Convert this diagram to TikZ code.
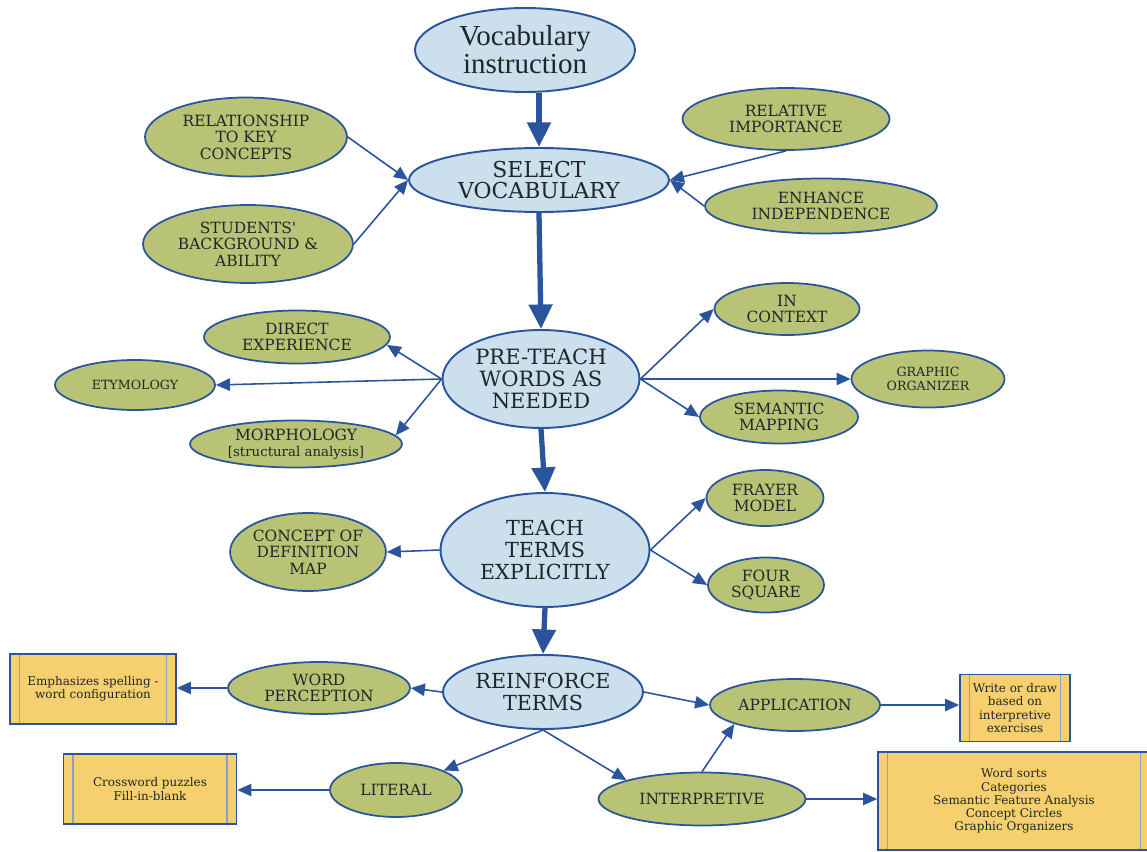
\documentclass[tikz,border=0pt]{standalone}
\usepackage{fontspec}
\setmainfont{DejaVu Serif}
\newfontfamily\titlefont{Liberation Serif}
\definecolor{skyblue}{RGB}{203,223,236}
\definecolor{olivegreen}{RGB}{184,195,118}
\definecolor{boxgold}{RGB}{246,207,110}
\definecolor{edgeblue}{RGB}{42,84,156}
\definecolor{inkgray}{RGB}{30,40,40}
\usetikzlibrary{shapes.geometric, arrows.meta}
\tikzstyle{mainell}=[ellipse, draw=edgeblue, line width=1.1pt, fill=skyblue, text=inkgray, inner sep=0pt, align=center]
\tikzstyle{subell}=[ellipse, draw=edgeblue, line width=1pt, fill=olivegreen, text=inkgray, inner sep=0pt, align=center, font=\fontsize{8.8}{9.4}\selectfont]
\tikzstyle{notebox}=[rectangle, draw=edgeblue, line width=1pt, fill=boxgold, text=inkgray, inner sep=0pt, align=center, font=\fontsize{6.8}{7.5}\selectfont,
    path picture={\draw[edgeblue!55, line width=0.8pt] ([xshift=5.5pt]path picture bounding box.north west) -- ([xshift=5.5pt]path picture bounding box.south west)
        ([xshift=-5.5pt]path picture bounding box.north east) -- ([xshift=-5.5pt]path picture bounding box.south east);}]
\tikzstyle{bigarrow}=[edgeblue, line width=3pt, -{Triangle[length=14pt,width=13pt]}]
\tikzstyle{smallarrow}=[edgeblue, line width=0.9pt, -{Triangle[length=8pt,width=7pt]}]

\begin{document}
\begin{tikzpicture}[x=0.02cm, y=-0.02cm]
        \useasboundingbox (0,0) rectangle (1147,852);
        \node[mainell, minimum width=4.4cm, minimum height=1.68cm, font=\titlefont\fontsize{16.5}{16}\selectfont] (vocab) at (525,50) {Vocabulary\\instruction};
        \node[mainell, minimum width=5.2cm, minimum height=1.28cm, font=\fontsize{12.5}{12}\selectfont] (select) at (539,180) {SELECT\\VOCABULARY};
        \node[mainell, minimum width=3.94cm, minimum height=1.96cm, font=\fontsize{12}{12.5}\selectfont] (preteach) at (541,379) {PRE-TEACH\\WORDS AS\\NEEDED};
        \node[mainell, minimum width=4.18cm, minimum height=2.28cm, font=\fontsize{11.8}{12.5}\selectfont] (teach) at (545,550) {TEACH\\TERMS\\EXPLICITLY};
        \node[mainell, minimum width=4.0cm, minimum height=1.48cm, font=\fontsize{11.8}{12.5}\selectfont] (reinforce) at (543,692) {REINFORCE\\TERMS};

        \node[subell, minimum width=4.04cm, minimum height=1.58cm] (relation) at (246,137) {RELATIONSHIP\\TO KEY\\CONCEPTS};
        \node[subell, minimum width=4.2cm, minimum height=1.56cm] (students) at (248,244) {STUDENTS\textquotesingle\\BACKGROUND \&\\ABILITY};
        \node[subell, minimum width=4.14cm, minimum height=1.24cm] (importance) at (786,119) {RELATIVE\\IMPORTANCE};
        \node[subell, minimum width=4.64cm, minimum height=1.1cm] (independence) at (821,206) {ENHANCE\\INDEPENDENCE};

        \node[subell, minimum width=3.72cm, minimum height=1.06cm] (direct) at (297,337) {DIRECT\\EXPERIENCE};
        \node[subell, minimum width=3.2cm, minimum height=1.0cm, font=\fontsize{7.2}{8}\selectfont] (etymology) at (135,385) {ETYMOLOGY};
        \node[subell, minimum width=4.24cm, minimum height=0.94cm] (morphology) at (296,444) {MORPHOLOGY\\{\fontsize{7.6}{8.4}\selectfont[structural analysis]}};
        \node[subell, minimum width=2.9cm, minimum height=1.04cm] (context) at (787,309) {IN\\CONTEXT};
        \node[subell, minimum width=3.06cm, minimum height=1.14cm, font=\fontsize{7.2}{8}\selectfont] (organizer) at (928,379) {GRAPHIC\\ORGANIZER};
        \node[subell, minimum width=3.16cm, minimum height=1.06cm] (mapping) at (779,417) {SEMANTIC\\MAPPING};

        \node[subell, minimum width=3.0cm, minimum height=1.56cm] (definition) at (308,552) {CONCEPT OF\\DEFINITION\\MAP};
        \node[subell, minimum width=2.34cm, minimum height=1.12cm] (frayer) at (765,498) {FRAYER\\MODEL};
        \node[subell, minimum width=2.32cm, minimum height=1.1cm] (square) at (766,585) {FOUR\\SQUARE};

        \node[subell, minimum width=3.64cm, minimum height=1.04cm] (perception) at (319,688) {WORD\\PERCEPTION};
        \node[subell, minimum width=3.4cm, minimum height=1.04cm] (application) at (795,705) {APPLICATION};
        \node[subell, minimum width=2.64cm, minimum height=1.08cm] (literal) at (396,790) {LITERAL};
        \node[subell, minimum width=4.14cm, minimum height=1.06cm] (interpretive) at (702,799) {INTERPRETIVE};

        \node[notebox, minimum width=3.32cm, minimum height=1.4cm] (spelling) at (93,689) {Emphasizes spelling -\\word configuration};
        \node[notebox, minimum width=2.2cm, minimum height=1.34cm] (writedraw) at (1015,708) {Write or draw\\based on\\interpretive\\exercises};
        \node[notebox, minimum width=3.46cm, minimum height=1.4cm] (crossword) at (150,789) {Crossword puzzles\\Fill-in-blank};
        \node[notebox, minimum width=5.44cm, minimum height=1.96cm] (sorts) at (1014,801) {Word sorts\\Categories\\Semantic Feature Analysis\\Concept Circles\\Graphic Organizers};

        \draw[bigarrow] (select.north |- vocab.south) -- (select.north);
        \draw[bigarrow] (select.south) -- (preteach.north);
        \draw[bigarrow] (preteach.south) -- (teach.north);
        \draw[bigarrow] (teach.south) -- (reinforce.north);

        \draw[smallarrow] (relation.east) -- (select.west);
        \draw[smallarrow] (students.east) -- (select.west);
        \draw[smallarrow] (importance.south) -- (select.east);
        \draw[smallarrow] (independence.west) -- (select.east);

        \draw[smallarrow] (preteach.west) -- (direct.-5);
        \draw[smallarrow] (preteach.west) -- (etymology.east);
        \draw[smallarrow] (preteach.west) -- (morphology.5);
        \draw[smallarrow] (preteach.east) -- (context.west);
        \draw[smallarrow] (preteach.east) -- (organizer.west);
        \draw[smallarrow] (preteach.east) -- (mapping.west);

        \draw[smallarrow] (teach.west) -- (definition.east);
        \draw[smallarrow] (teach.east) -- (frayer.west);
        \draw[smallarrow] (teach.east) -- (square.west);

        \draw[smallarrow] (reinforce.west) -- (perception.east);
        \draw[smallarrow] (reinforce.east) -- (application.west);
        \draw[smallarrow] (reinforce.south) -- (literal);
        \draw[smallarrow] (reinforce.south) -- (interpretive.166);
        \draw[smallarrow] (interpretive.north) -- (application.south west);

        \draw[smallarrow] (perception.west) -- (perception.west -| spelling.east);
        \draw[smallarrow] (application.east) -- (application.east -| writedraw.west);
        \draw[smallarrow] (literal.west) -- (literal.west -| crossword.east);
        \draw[smallarrow] (interpretive.east) -- (interpretive.east -| sorts.west);
    \end{tikzpicture}
\end{document}
